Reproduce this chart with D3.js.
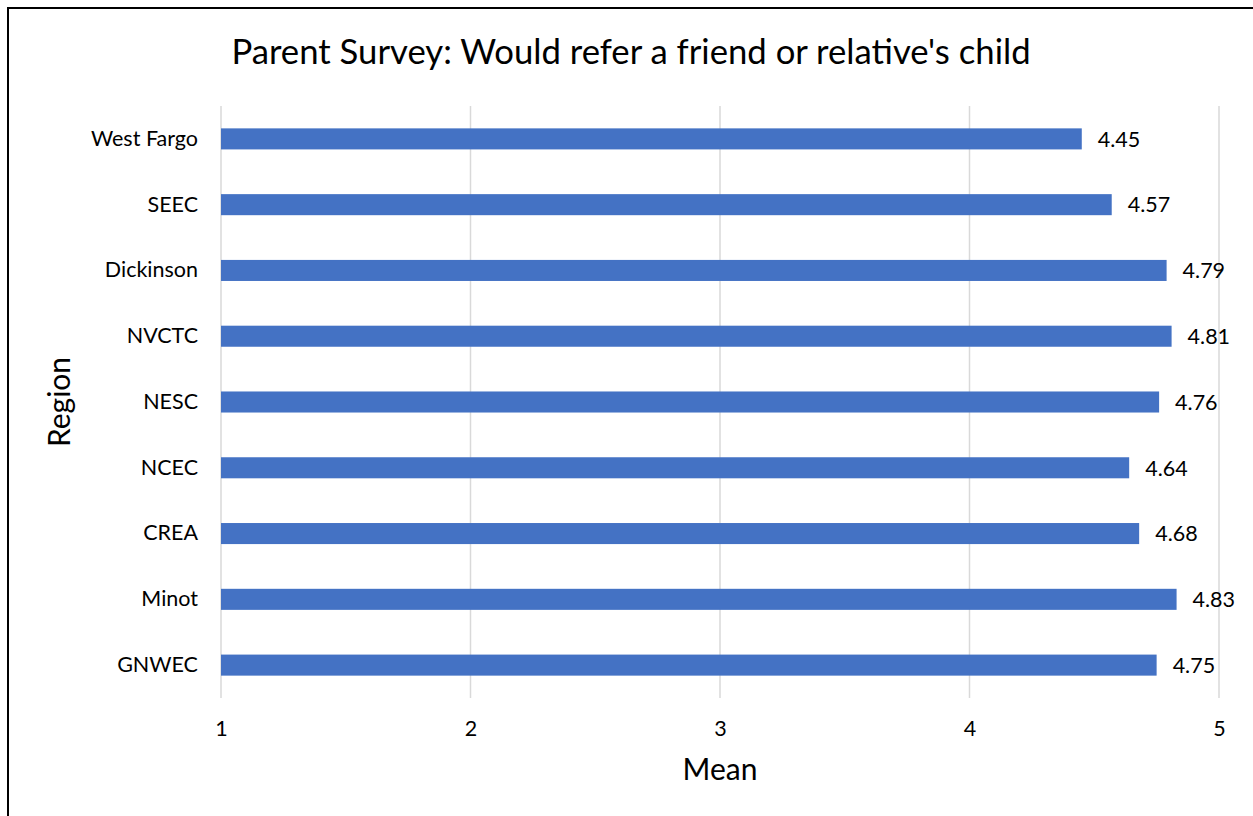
<!DOCTYPE html>
<html><head><meta charset="utf-8">
<script src="https://cdn.jsdelivr.net/npm/d3@7"></script>
<style>body{margin:0;background:#fff;} text{font-family:Lato, "Open Sans", sans-serif;}</style>
</head><body>
<svg id="c" width="1253" height="816"></svg>
<script>
const categories = ["West Fargo","SEEC","Dickinson","NVCTC","NESC","NCEC","CREA","Minot","GNWEC"];
const values = [4.45,4.57,4.79,4.81,4.76,4.64,4.68,4.83,4.75];
const xTicks = [1,2,3,4,5];
const title = "Parent Survey: Would refer a friend or relative's child";
const xTitle = "Mean";
const yTitle = "Region";

const svg = d3.select("#c");
svg.append("rect").attr("x",0).attr("y",0).attr("width",1253).attr("height",816).attr("fill","#fff");
svg.append("path").attr("d","M8,816 L8,8 L1253,8").attr("fill","none").attr("stroke","#000").attr("stroke-width",2);

const x = d3.scaleLinear().domain([1,5]).range([221,1219]);
const y = d3.scaleBand().domain(categories).range([106,698]).paddingInner(0.68).paddingOuter(0.34);

const g = svg.append("g");
g.selectAll("line.grid").data(xTicks).join("line").attr("class","grid")
  .attr("x1",d=>x(d)).attr("x2",d=>x(d)).attr("y1",106).attr("y2",698)
  .attr("stroke","#d9d9d9").attr("stroke-width",1.5);

g.selectAll("rect.bar").data(values).join("rect").attr("class","bar")
  .attr("x",x(1)).attr("y",(d,i)=>y(categories[i]))
  .attr("width",d=>x(d)-x(1)).attr("height",y.bandwidth())
  .attr("fill","#4472C4");

g.selectAll("text.lbl").data(values).join("text").attr("class","lbl")
  .attr("x",d=>x(d)+16).attr("y",(d,i)=>y(categories[i])+y.bandwidth()/2)
  .attr("dy","0.36em").attr("font-size",21.5).attr("fill","#000")
  .text(d=>d.toFixed(2));

const yAxis = d3.axisLeft(y).tickSize(0).tickPadding(23);
const ya = svg.append("g").attr("transform",`translate(${x(1)},0)`).call(yAxis);
ya.select(".domain").remove();
ya.selectAll("text").attr("font-size",21.5).attr("fill","#000").style("font-family","Lato, sans-serif");

const xAxis = d3.axisBottom(x).tickValues(xTicks).tickSize(0).tickPadding(23).tickFormat(d3.format("d"));
const xa = svg.append("g").attr("transform","translate(0,698)").call(xAxis);
xa.select(".domain").remove();
xa.selectAll("text").attr("font-size",21.5).attr("fill","#000").style("font-family","Lato, sans-serif");

svg.append("text").attr("x",631).attr("y",64).attr("text-anchor","middle")
  .attr("font-size",34.7).attr("fill","#000").text(title);
svg.append("text").attr("x",720).attr("y",780).attr("text-anchor","middle")
  .attr("font-size",30).attr("fill","#000").text(xTitle);
svg.append("text").attr("transform","translate(70,402) rotate(-90)").attr("text-anchor","middle")
  .attr("font-size",30).attr("fill","#000").text(yTitle);
</script>
</body></html>
